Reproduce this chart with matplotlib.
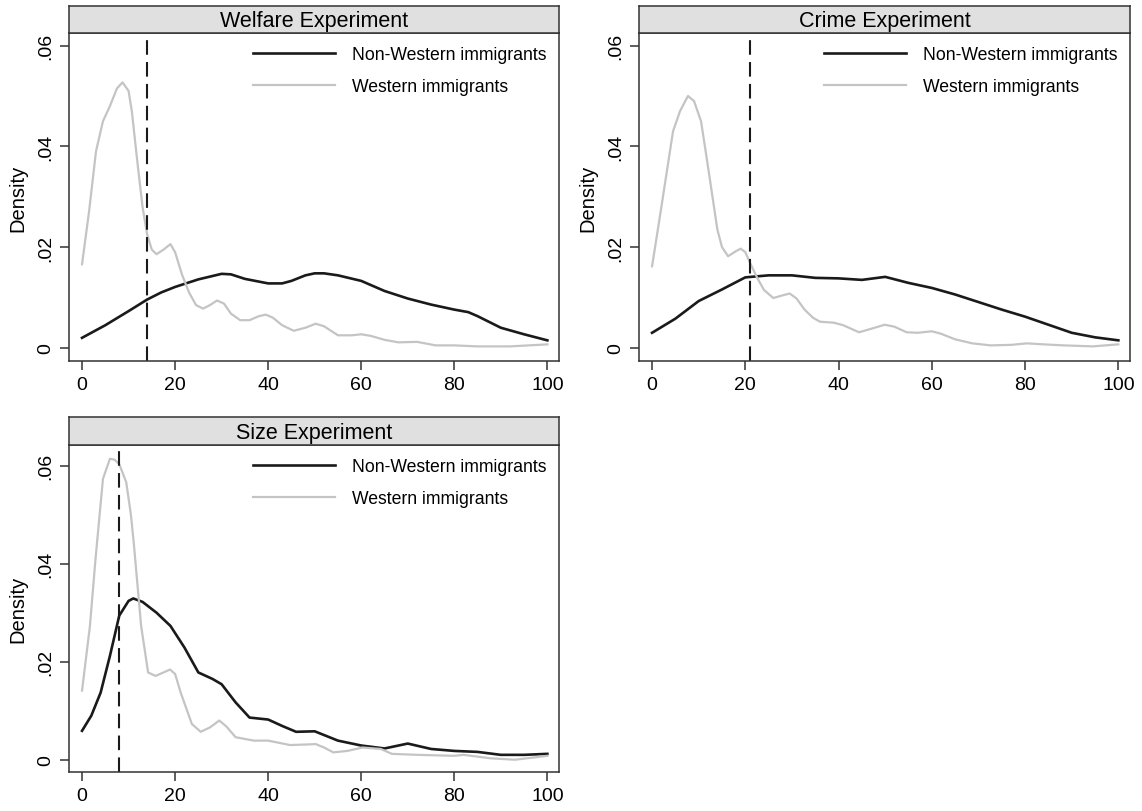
import matplotlib
matplotlib.use("Agg")
import matplotlib.pyplot as plt

plt.rcParams['font.family'] = ['Liberation Sans', 'DejaVu Sans']

# panel titles and reference (dashed) positions
titles = ["Welfare Experiment", "Crime Experiment", "Size Experiment"]
ref_lines = [14, 21, 8]
legend_labels = ["Non-Western immigrants", "Western immigrants"]
x_ticks = [0, 20, 40, 60, 80, 100]
y_ticks = [0, 0.02, 0.04, 0.06]
y_ticklabels = ["0", ".02", ".04", ".06"]

# Welfare experiment
welfare_nonwest_x = [0, 5, 10, 14, 17, 20, 25, 30, 32, 35, 40, 43, 45, 48, 50, 52, 55, 60, 65, 70, 75, 80,
                     83, 85, 90, 95, 100]
welfare_nonwest_y = [.002, .0045, .0073, .0096, .011, .0121, .0136, .0147, .0146, .0137, .0128, .0128, .0133,
                     .0144, .0148, .0148, .0144, .0133, .0113, .0098, .0086, .0076, .0071, .0063, .004,
                     .0027, .0015]
welfare_west_x = [0, 1.5, 3, 4.5, 6, 7.5, 8.7, 10, 10.7, 12, 13, 14, 15, 16, 17.5, 19, 20, 21.5, 23, 24.5,
                  26, 27.5, 29, 30.5, 32, 34, 36, 38, 39.5, 41, 43, 45.5, 48, 50.2, 52, 55, 58, 60, 62, 65,
                  68, 72, 76, 80, 85, 92, 100]
welfare_west_y = [.0166, .027, .039, .045, .048, .0515, .0527, .051, .047, .036, .028, .0225, .0195, .0186,
                  .0195, .0206, .019, .0145, .011, .0085, .0078, .0085, .0094, .0088, .0068, .0055, .0055,
                  .0063, .0066, .006, .0045, .0034, .004, .0048, .0043, .0025, .0025, .0027, .0024, .0016,
                  .0011, .0012, .0005, .0005, .0003, .0003, .0007]

# Crime experiment
crime_nonwest_x = [0, 5, 10, 15, 20, 25, 30, 35, 40, 45, 50, 55, 60, 65, 70, 75, 80, 85, 90, 95, 100]
crime_nonwest_y = [.003, .0058, .0093, .0116, .014, .0144, .0144, .0139, .0138, .0135, .0141, .0129, .0119,
                   .0106, .0091, .0076, .0062, .0046, .003, .0021, .0015]
crime_west_x = [0, 1.5, 3, 4.5, 6, 7.7, 9, 10.5, 11.5, 12.8, 14, 15, 16.3, 18, 19, 20, 21, 22.5, 24, 26,
                27.5, 29.5, 31, 32.7, 34.5, 36, 39, 41, 44.4, 47, 49.9, 52, 54.6, 57, 60, 62, 65, 68.7,
                72.6, 77, 80.4, 84, 88.3, 94.5, 100]
crime_west_y = [.0162, .025, .034, .043, .047, .05, .049, .045, .039, .031, .0235, .02, .0182, .0192, .0197,
                .019, .0169, .014, .0115, .0099, .0103, .0108, .0098, .0076, .006, .0052, .005, .0045,
                .0031, .0038, .0046, .0042, .0031, .003, .0033, .0028, .0017, .0009, .0005, .0006, .0009,
                .0007, .0005, .0003, .0007]

# Size experiment
size_nonwest_x = [0, 2, 4, 6, 8, 10, 11, 13, 16, 19, 22, 25, 28, 30, 33, 36, 40, 43, 46, 50, 55, 60, 65, 70,
                  75, 80, 85, 90, 95, 100]
size_nonwest_y = [.0059, .009, .0137, .0212, .0294, .0324, .0329, .0322, .03, .0273, .0229, .0178, .0165,
                  .0154, .0117, .0086, .0082, .0069, .0057, .0058, .0039, .0029, .0023, .0033, .0022, .0018,
                  .0016, .001, .001, .0012]
size_west_x = [0, 1.7, 2.9, 4.5, 6, 7, 8, 9.5, 10.5, 11.1, 12.7, 14.2, 15.8, 17.5, 18.9, 20, 21.2, 23.6,
               25.5, 27.5, 29.5, 31, 33, 36.9, 40, 44.7, 48, 50.2, 52, 54, 57, 60.3, 64.2, 66.6, 72, 80,
               82, 87.7, 93, 100]
size_west_y = [.0141, .0273, .041, .0573, .0614, .0612, .0603, .0566, .05, .0444, .0273, .0178, .0171,
               .0178, .0184, .0175, .0137, .0073, .0057, .0066, .008, .0068, .0046, .0039, .0039, .003,
               .0031, .0032, .0025, .0015, .0018, .0025, .0022, .0012, .001, .0008, .001, .0003, 0, .0008]

panels = [
    (welfare_nonwest_x, welfare_nonwest_y, welfare_west_x, welfare_west_y),
    (crime_nonwest_x, crime_nonwest_y, crime_west_x, crime_west_y),
    (size_nonwest_x, size_nonwest_y, size_west_x, size_west_y),
]

W, H = 1142, 812
fig = plt.figure(figsize=(W / 100, H / 100), dpi=100)

# pixel boxes: left, right, top of strip, bottom of strip, bottom of axes
boxes = [(69, 559, 7, 34, 362), (639, 1130, 7, 34, 362), (69, 559, 418, 446, 773)]
ylims = [(-0.0026, 0.0625), (-0.0026, 0.0625), (-0.0025, 0.0642)]

frame_col = "#333333"
black_col = "#1a1a1a"
gray_col = "#c4c4c4"

for i, (l, r, st, sb, b) in enumerate(boxes):
    nx, ny, wx, wy = panels[i]
    ax = fig.add_axes([l / W, 1 - b / H, (r - l) / W, (b - sb) / H])
    ax.plot(nx, ny, color=black_col, lw=1.9, label=legend_labels[0], solid_joinstyle="round")
    ax.plot(wx, wy, color=gray_col, lw=1.6, label=legend_labels[1], solid_joinstyle="round")
    ax.axvline(ref_lines[i], color=black_col, lw=1.5, dashes=(7, 3.5))
    ax.set_xlim(-2.8, 102.5)
    ax.set_ylim(*ylims[i])
    ax.set_xticks(x_ticks)
    ax.set_yticks(y_ticks)
    ax.set_yticklabels(y_ticklabels, rotation=90, va="center")
    ax.tick_params(axis="both", direction="out", length=6.5, width=1.1, color=frame_col,
                   labelsize=14, pad=4)
    for s in ax.spines.values():
        s.set_color(frame_col)
        s.set_linewidth(1.1)
    ax.set_ylabel("Density", fontsize=14.5)
    ax.yaxis.set_label_coords(-0.085, 0.5)
    ax.legend(loc="upper right", bbox_to_anchor=(1.0, 0.997), frameon=False, fontsize=12.7,
              handlelength=4.6, handletextpad=1.0, labelspacing=0.85, borderaxespad=0.3)

    # title strip
    sax = fig.add_axes([l / W, 1 - sb / H, (r - l) / W, (sb - st) / H])
    sax.set_facecolor("#e0e0e0")
    sax.set_xticks([])
    sax.set_yticks([])
    for s in sax.spines.values():
        s.set_color(frame_col)
        s.set_linewidth(1.1)
    sax.text(0.5, 0.45, titles[i], ha="center", va="center", fontsize=15.5, transform=sax.transAxes)

fig.savefig("out.png", dpi=100)
